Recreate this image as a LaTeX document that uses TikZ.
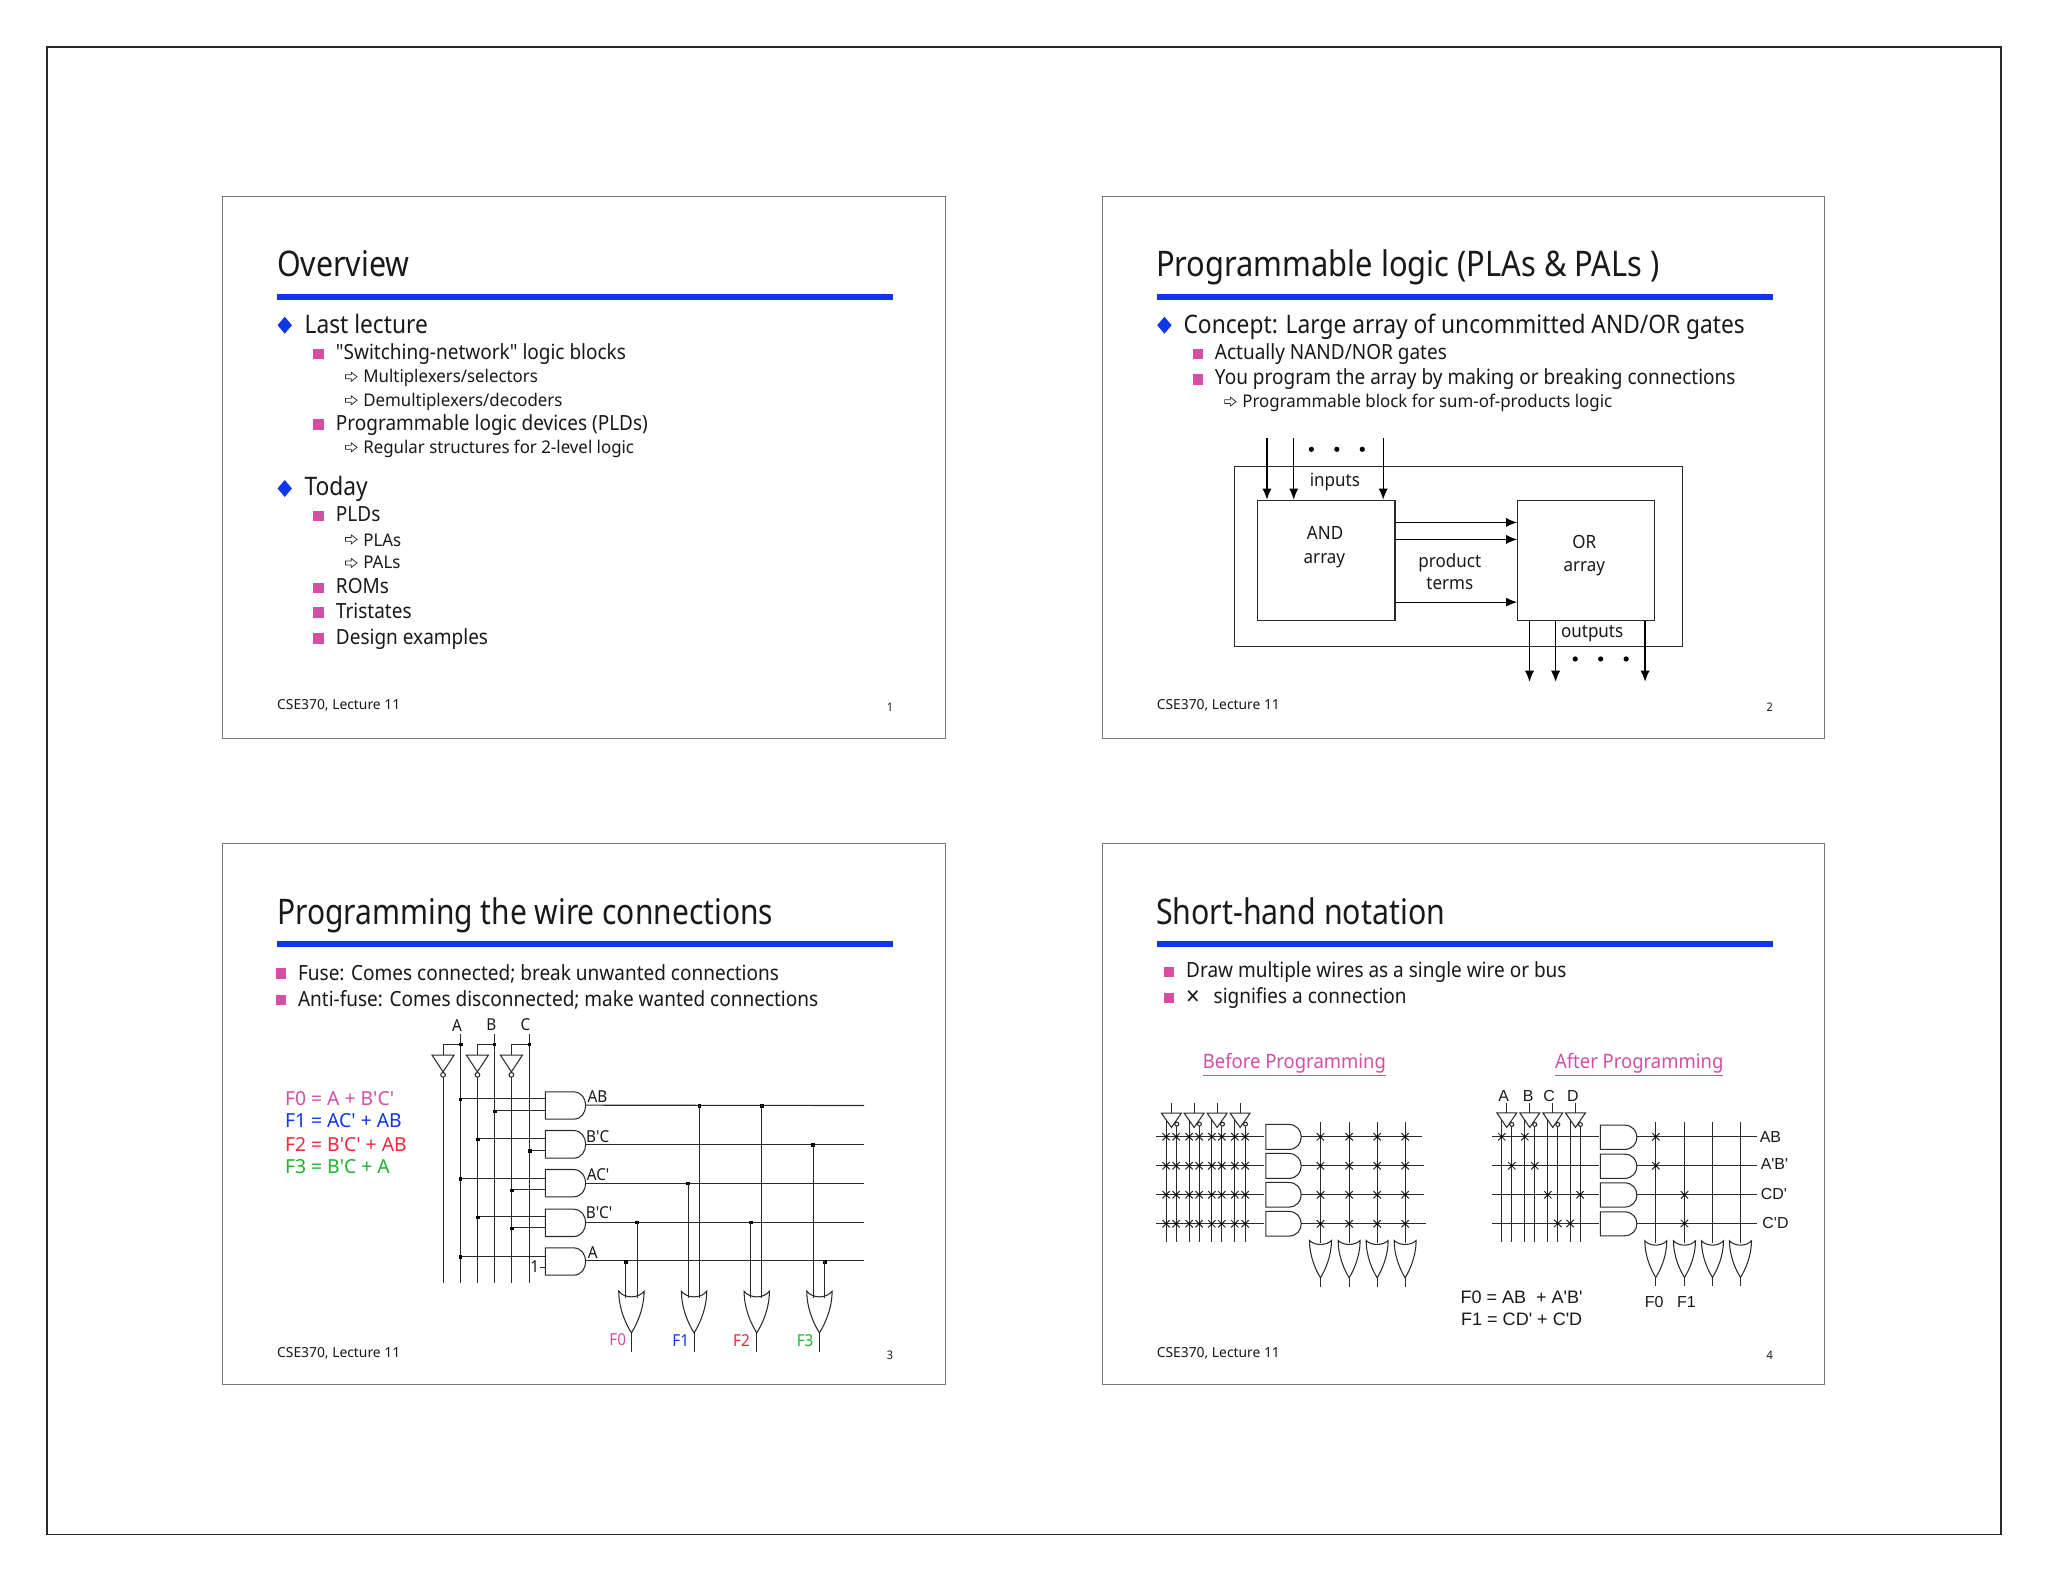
\documentclass[tikz,border=0pt]{standalone}
\usepackage{fontspec}
\usetikzlibrary{arrows.meta}
\newfontfamily\tah[FakeStretch=0.93]{Noto Sans}
\newfontfamily\tahT[FakeStretch=0.86]{Noto Sans}
\newfontfamily\tahTw[FakeStretch=0.874]{Noto Sans}
\newfontfamily\tahTn[FakeStretch=0.85]{Noto Sans}
\newfontfamily\tahA[FakeStretch=0.893]{Noto Sans}
\newfontfamily\tahB[FakeStretch=0.909]{Noto Sans}
\newfontfamily\tahC[FakeStretch=0.963]{Noto Sans}
\newfontfamily\tahF{Noto Sans}
\newfontfamily\arialf{Liberation Sans}
\definecolor{bbar}{HTML}{0D37E8}
\definecolor{pinkc}{HTML}{D44EA6}
\definecolor{redc}{HTML}{F0283C}
\definecolor{greenc}{HTML}{1DB32D}
\definecolor{wirec}{HTML}{2A2A2A}
\definecolor{framec}{HTML}{777777}
\tikzset{
 ttl/.style={inner sep=0,anchor=base west,font=\tahT\fontsize{27}{27}\selectfont,text=black!90},
 lone/.style={inner sep=0,anchor=base west,yshift=-6.4pt,font=\tahA\fontsize{19.5}{19.5}\selectfont,text=black!90},
 ltwo/.style={inner sep=0,anchor=base west,yshift=-5.6pt,font=\tahB\fontsize{16}{16}\selectfont,text=black!90},
 lthree/.style={inner sep=0,anchor=base west,yshift=-5.1pt,font=\tahC\fontsize{13.4}{13.4}\selectfont,text=black!90},
 foot/.style={inner sep=0,anchor=base west,font=\tahF\fontsize{10.6}{10.6}\selectfont,text=black!90},
 pagenum/.style={inner sep=0,anchor=base east,font=\tah\fontsize{9}{9}\selectfont,text=black!90},
 diag/.style={inner sep=0,anchor=center,yshift=-1.8pt,text height=10pt,text depth=3pt,font=\tah\fontsize{14}{14}\selectfont,text=black!90},
 ulhead/.style={inner sep=0,anchor=center,yshift=-1.8pt,text height=11pt,text depth=4pt,font=\tah\fontsize{15.2}{15.2}\selectfont,text=pinkc},
 eqn/.style={inner sep=0,anchor=base west,yshift=-5.6pt,font=\tahF\fontsize{14.8}{14.8}\selectfont},
 circ/.style={inner sep=0,anchor=center,font=\tah\fontsize{12.6}{12.6}\selectfont,text=black!90},
 ari/.style={inner sep=0,anchor=center,font=\arialf\fontsize{12.2}{12.2}\selectfont,text=black!90},
 arieq/.style={inner sep=0,anchor=base west,font=\arialf\fontsize{13.8}{13.8}\selectfont,text=black!90},
 wire/.style={draw=wirec,line width=0.85pt},
 gate/.style={draw=wirec,line width=0.8pt,fill=none},
 box/.style={draw=wirec,line width=0.9pt,inner sep=0,fill=none},
 arr/.style={draw=black,line width=0.9pt,-{Latex[length=8.5pt,width=7pt]}},
 sframe/.style={draw=framec,line width=0.7pt},
 dbul/.pic={\fill[bbar] (-5.5,0)--(0,-6.5)--(5.5,0)--(0,6.5)--cycle;},
 sbul/.pic={\fill[pinkc] (-4,-4) rectangle (4,4);},
 hbul/.pic={\draw[black!85,line width=0.55pt,fill=white] (-4.4,-1.5)--(0,-1.5)--(0,-3.4)--(4.4,0)--(0,3.4)--(0,1.5)--(-4.4,1.5)--cycle;},
}
\newcommand{\titlebar}[2]{\fill[bbar] (#1,#2) rectangle ++(472,4.6);}
\newcommand{\andg}[6]{% l flat ctrl top bot
 \draw[gate] (#1,#4) -- (#2,#4) .. controls (#3,#4) and (#3,#5) .. (#2,#5) -- (#1,#5) -- cycle;}
\newcommand{\org}[6]{% cx top valley tip hw outY
 \pgfmathsetmacro{\xl}{#1-#5}\pgfmathsetmacro{\xr}{#1+#5}
 \pgfmathsetmacro{\xa}{#1-0.55*#5}\pgfmathsetmacro{\xb}{#1+0.55*#5}
 \pgfmathsetmacro{\cv}{#2+(#3-#2)*4/3}
 \pgfmathsetmacro{\ya}{#2+0.42*(#4-#2)}\pgfmathsetmacro{\yb}{#4-0.2*(#4-#2)}
 \pgfmathsetmacro{\xc}{#1-0.42*#5}\pgfmathsetmacro{\xd}{#1+0.42*#5}
 \draw[gate] (\xl,#2) .. controls (\xa,\cv) and (\xb,\cv) .. (\xr,#2)
   .. controls (\xr,\ya) and (\xd,\yb) .. (#1,#4)
   .. controls (\xc,\yb) and (\xl,\ya) .. (\xl,#2) -- cycle;
 \draw[wire] (#1,#4) -- (#1,#6);}
\begin{document}
\begin{tikzpicture}[x=1pt,y=-1pt]
\useasboundingbox (0,0) rectangle (1568,1211.3);
\fill[white] (0,0) rectangle (1568,1211.3);
\draw[draw=wirec,line width=0.8pt] (36,36) rectangle (1532,1175);
\draw[sframe] (170,150.5) rectangle (724,565);
\draw[sframe] (844,150.5) rectangle (1397,565);
\draw[sframe] (170,646) rectangle (724,1060);
\draw[sframe] (844,646) rectangle (1397,1060);
\titlebar{212}{225}\titlebar{885.5}{225}\titlebar{212}{720.5}\titlebar{885.5}{720.5}
% ---------- slide 1
\node[ttl] (t1) at (212,212) {Overview};
\pic at (218,249) {dbul};
\node[lone] (a1) at (233,249) {Last lecture};
\pic at (244,271) {sbul};
\node[ltwo] (a2) at (257,270) {"Switching-network" logic blocks};
\pic at (269,288.5) {hbul};
\node[lthree] (a3) at (278,288) {Multiplexers/selectors};
\pic at (269,306.5) {hbul};
\node[lthree] (a4) at (278,306) {Demultiplexers/decoders};
\pic at (244,325) {sbul};
\node[ltwo] (a5) at (257,324) {Programmable logic devices (PLDs)};
\pic at (269,342.5) {hbul};
\node[lthree] (a6) at (278,342) {Regular structures for 2-level logic};
\pic at (218,374) {dbul};
\node[lone] (a7) at (233,373) {Today};
\pic at (244,395) {sbul};
\node[ltwo] (a8) at (257,394) {PLDs};
\pic at (269,413) {hbul};
\node[lthree] (a9) at (278,413) {PLAs};
\pic at (269,431) {hbul};
\node[lthree] (a10) at (278,430.5) {PALs};
\pic at (244,450) {sbul};
\node[ltwo] (a11) at (257,449) {ROMs};
\pic at (244,469) {sbul};
\node[ltwo] (a12) at (257,468) {Tristates};
\pic at (244,489) {sbul};
\node[ltwo] (a13) at (257,488) {Design examples};
\node[foot] (f1) at (212,543) {CSE370, Lecture 11};
\node[pagenum] (p1) at (684,544.5) {1};
% ---------- slide 2
\node[ttl,font=\tahTw\fontsize{27}{27}\selectfont] (t2) at (885,212) {Programmable logic (PLAs \& PALs )};
\pic at (891.5,249) {dbul};
\node[lone] (b1) at (906,249) {Concept: Large array of uncommitted AND/OR gates};
\pic at (917,271) {sbul};
\node[ltwo] (b2) at (930,270) {Actually NAND/NOR gates};
\pic at (917,290.5) {sbul};
\node[ltwo] (b3) at (930,289) {You program the array by making or breaking connections};
\pic at (942,307.5) {hbul};
\node[lthree] (b4) at (951,307) {Programmable block for sum-of-products logic};
\node[box,minimum width=343pt,minimum height=138pt] (chip) at (1116.5,426) {};
\node[box,minimum width=105pt,minimum height=92pt] (andb) at (1015.5,429) {};
\node[box,minimum width=105pt,minimum height=92pt] (orb) at (1214.5,429) {};
\coordinate (i1) at (970,335); \coordinate (i2) at (990.5,335); \coordinate (i3) at (1059,335);
\coordinate (o1) at (1171,522); \coordinate (o2) at (1191,522); \coordinate (o3) at (1259.5,522);
\foreach \c in {i1,i2,i3} \draw[arr] (\c) -- (\c |- andb.north);
\foreach \c in {o1,o2,o3} \draw[arr] (\c |- orb.south) -- (\c);
\coordinate (p1c) at (1100,400); \coordinate (p2c) at (1100,413); \coordinate (p3c) at (1100,461);
\foreach \c in {p1c,p2c,p3c} \draw[arr] (andb.east |- \c) -- (orb.west |- \c);
\foreach \x in {1004,1023.5,1043} \fill[black] (\x,344) circle (2pt);
\foreach \x in {1206,1225.5,1245} \fill[black] (\x,504.5) circle (2pt);
\node[diag] (d1) at (1022,367) {inputs};
\node[diag] (d2) at (1014.5,408) {AND};
\node[diag] (d3) at (1014,426) {array};
\node[diag] (d4) at (1213,415) {OR};
\node[diag] (d5) at (1213,432) {array};
\node[diag] (d6) at (1110,429) {product};
\node[diag] (d7) at (1110,446) {terms};
\node[diag] (d8) at (1219,483) {outputs};
\node[foot] (f2) at (885.5,543) {CSE370, Lecture 11};
\node[pagenum] (p2) at (1357.5,544.5) {2};
% ---------- slide 3
\node[ttl,font=\tahTn\fontsize{27}{27}\selectfont] (t3) at (212,707.5) {Programming the wire connections};
\pic at (215,745.5) {sbul};
\node[ltwo] (c1) at (228,745) {Fuse: Comes connected; break unwanted connections};
\pic at (215,765.5) {sbul};
\node[ltwo] (c2) at (228,765) {Anti-fuse: Comes disconnected; make wanted connections};
\node[eqn,text=pinkc] (e0) at (218,841) {F0 = A + B'C'};
\node[eqn,text=bbar] (e1) at (218,858) {F1 = AC' + AB};
\node[eqn,text=redc] (e2) at (218,876) {F2 = B'C' + AB};
\node[eqn,text=greenc] (e3) at (218,893) {F3 = B'C + A};
\begin{scope}[shift={(321.6,773.4)},x=0.25523pt,y=-0.25523pt]
 \foreach \x in {120,223,328} \draw[wire] (\x,72) -- (\x,818);
 \foreach \x in {69,172,274} {
  \draw[gate] (\x-33,135) -- (\x+33,135) -- (\x,185) -- cycle;
  \draw[gate] (\x,194) circle (7);
  \draw[wire] (\x,201) -- (\x,818);
 }
 \draw[wire] (69,135) -- (69,103) -- (120,103);
 \draw[wire] (172,135) -- (172,103) -- (223,103);
 \draw[wire] (274,135) -- (274,103) -- (328,103);
 \foreach \yt/\yb in {245/327,361/444,478/560,597/679,713/795} \andg{376}{460}{509}{\yt}{\yb}{};
 \foreach \x/\y in {120/266,223/301,172/385,328/420,120/504,274/538,172/619,274/653,120/738}
   {\draw[wire] (\x,\y) -- (376,\y); \fill[black] (\x+2,\y+2) +(-5,-5) rectangle +(5,5);}
 \draw[wire] (360,771) -- (376,771);
 \foreach \y/\z in {285/286,404/404,520/520,636/636,752/752} \draw[wire] (497,\y) -- (1332,\z);
 \foreach \x/\y in {123/103,223/103,328/103,838/287,1025/287,1179/404,804/520,651/637,992/637,617/755,1215/755}
   \fill[black] (\x,\y) +(-5.5,-5.5) rectangle +(5.5,5.5);
 \foreach \x/\y in {615/752,651/636,805/520,838/285,992/636,1025/285,1179/404,1213/752}
   \draw[wire] (\x,\y) -- (\x,862);
 \foreach \c in {634,822,1010,1198} \org{\c}{843}{860}{968}{38}{1025};
 \node[circ] (g1) at (111,46) {A};
 \node[circ] (g2) at (214,43) {B};
 \node[circ] (g3) at (316,43) {C};
 \node[circ] (g4) at (532,258) {AB};
 \node[circ] (g5) at (533,378) {B'C};
 \node[circ] (g6) at (534,493) {AC'};
 \node[circ] (g7) at (537,607) {B'C'};
 \node[circ] (g8) at (518,727) {A};
 \node[circ] (g9) at (344,770) {1};
 \node[circ,text=pinkc] (g10) at (593,988) {F0};
 \node[circ,text=bbar] (g11) at (782,990) {F1};
 \node[circ,text=redc] (g12) at (964,990) {F2};
 \node[circ,text=greenc] (g13) at (1155,990) {F3};
\end{scope}
\node[foot] (f3) at (212,1039) {CSE370, Lecture 11};
\node[pagenum] (p3) at (684,1040.5) {3};
% ---------- slide 4
\node[ttl] (t4) at (885,707.5) {Short-hand notation};
\pic at (895,744) {sbul};
\node[ltwo] (h1) at (908,743) {Draw multiple wires as a single wire or bus};
\pic at (895,764) {sbul};
\node[ltwo] (h2) at (908,763) {\makebox[21pt][l]{\raisebox{-1.5pt}{\fontsize{20}{20}\selectfont ×}}signifies a connection};
\node[ulhead] (h3) at (991,813) {\underline{Before Programming}};
\node[ulhead] (h4) at (1255,813) {\underline{After Programming}};
% before
\begin{scope}[shift={(880.55,826.95)},x=0.25523pt,y=-0.25523pt]
 \foreach \y/\e in {170/815,257/822,344/822,431/828} {
  \draw[wire] (18,\y) -- (342,\y);
  \draw[wire] (453,\y) -- (\e,\y);
 }
 \foreach \x/\s in {48/120,78/138,117/120,147/138,185/120,215/138,254/120,285/138} {
  \draw[wire] (\x,\s) -- (\x,485);
  \foreach \y in {170,257,344,431} {
   \draw[gate] (\x-11,\y-11) -- (\x+11,\y+11) (\x-11,\y+11) -- (\x+11,\y-11);
   \fill[black] (\x,\y) circle (4);
  }
 }
 \foreach \c in {64,132,201,270} {
  \draw[wire] (\c,70) -- (\c,99);
  \draw[gate] (\c-30,99) -- (\c+30,99) -- (\c,142) -- cycle;
  \draw[gate,fill=white] (\c+16,132) circle (6);
 }
 \foreach \yt/\yb in {133/208,220/295,307/381,394/468} \andg{347}{415}{466}{\yt}{\yb}{};
 \foreach \x in {511,597,681,765} {
  \draw[wire] (\x,125) -- (\x,490);
  \foreach \y in {170,257,344,431} {
   \draw[gate] (\x-11,\y-11) -- (\x+11,\y+11) (\x-11,\y+11) -- (\x+11,\y-11);
   \fill[black] (\x,\y) circle (4);
  }
  \org{\x}{481}{493}{593}{33}{620};
 }
\end{scope}
% after
\begin{scope}[shift={(1133.2,819.3)},x=0.25523pt,y=-0.25523pt]
 \foreach \y in {200,287,374,460} {
  \draw[wire] (35,\y) -- (358,\y);
  \draw[wire] (470,\y) -- (832,\y);
 }
 \foreach \x/\s in {65/150,95/169,134/150,164/169,203/150,233/169,270/150,300/169}
  \draw[wire] (\x,\s) -- (\x,516);
 \foreach \c in {80,149,218,286} {
  \draw[wire] (\c,100) -- (\c,128);
  \draw[gate] (\c-30,128) -- (\c+30,128) -- (\c,172) -- cycle;
  \draw[gate,fill=white] (\c+15,163) circle (6);
 }
 \foreach \yt/\yb in {165/238,252/325,338/411,425/497} \andg{361}{432}{483}{\yt}{\yb}{};
 \foreach \x in {527,613,697,781} {
  \draw[wire] (\x,155) -- (\x,520);
  \org{\x}{512}{525}{622}{33}{648};
 }
 \foreach \x/\y in {65/200,134/200,95/287,164/287,203/374,300/374,233/460,270/460,527/200,527/287,613/374,613/460} {
   \draw[gate] (\x-11,\y-11) -- (\x+11,\y+11) (\x-11,\y+11) -- (\x+11,\y-11);
   \fill[black] (\x,\y) circle (4);
 }
 \node[ari] (k1) at (71,78) {A};
 \node[ari] (k2) at (144,78) {B};
 \node[ari] (k3) at (207,78) {C};
 \node[ari] (k4) at (278,78) {D};
 \node[ari] (k5) at (871,200) {AB};
 \node[ari] (k6) at (883,283) {A'B'};
 \node[ari] (k7) at (881,372) {CD'};
 \node[ari] (k8) at (886,459) {C'D};
 \node[ari] (k9) at (522,697) {F0};
 \node[ari] (k10) at (619,697) {F1};
\end{scope}
\node[arieq] (q1) at (1118,998) {F0 = AB\ \ + A'B'};
\node[arieq] (q2) at (1118.5,1015) {F1 = CD' + C'D};
\node[foot] (f4) at (885.5,1039) {CSE370, Lecture 11};
\node[pagenum] (p4) at (1357.5,1040.5) {4};
\end{tikzpicture}
\end{document}
